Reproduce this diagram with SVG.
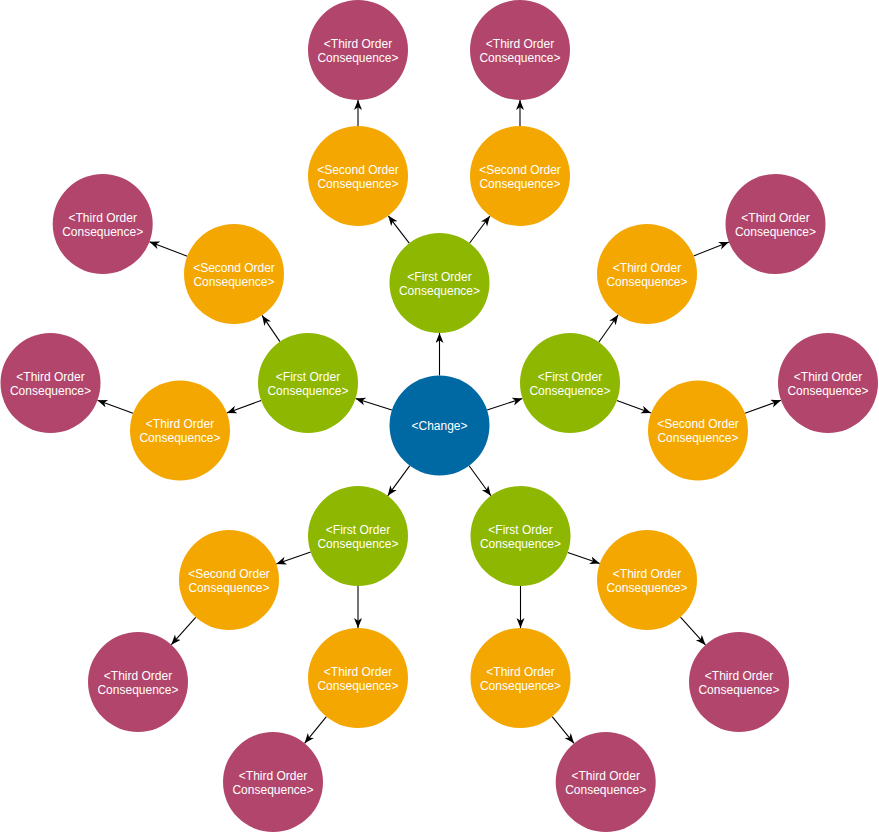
<svg xmlns="http://www.w3.org/2000/svg" width="879" height="833" viewBox="0 0 879 833">
<style>
.n{stroke:none}
.c{fill:#0068A3}
.g{fill:#8DB701}
.o{fill:#F5A701}
.m{fill:#B2456B}
text{font-family:"Liberation Sans",Arial,sans-serif;font-size:12px;fill:#FFFFFF;text-anchor:middle}
.e line{stroke:#000000;stroke-width:1.1;marker-end:url(#ah)}
</style>
<defs>
<marker id="ah" markerUnits="userSpaceOnUse" markerWidth="11" markerHeight="9" refX="10" refY="4" orient="auto">
<path d="M0,0 L10,4 L0,8 L2.8,4 Z" fill="#000000"/>
</marker>
</defs>
<g id="connectors" class="e">
<line x1="439.5" y1="375.5" x2="439.5" y2="333"/>
<line x1="391.9" y1="410.1" x2="355.6" y2="398.4"/>
<line x1="487.1" y1="410.0" x2="522.4" y2="398.5"/>
<line x1="409.8" y1="465.7" x2="387.7" y2="495.8"/>
<line x1="469.1" y1="465.8" x2="490.9" y2="495.7"/>
<line x1="409.2" y1="243.2" x2="388.3" y2="215.8"/>
<line x1="469.6" y1="243" x2="489.9" y2="216"/>
<line x1="358" y1="126" x2="358" y2="100"/>
<line x1="520" y1="126" x2="520" y2="100"/>
<line x1="279.9" y1="341.6" x2="262.1" y2="315.4"/>
<line x1="187.3" y1="256.2" x2="149.4" y2="241.8"/>
<line x1="261.1" y1="400.4" x2="226.9" y2="413.1"/>
<line x1="133" y1="413.3" x2="97.5" y2="400.2"/>
<line x1="598.8" y1="342.2" x2="618.2" y2="314.8"/>
<line x1="693.6" y1="255.9" x2="728.9" y2="242.1"/>
<line x1="616.9" y1="400.4" x2="651.1" y2="413.1"/>
<line x1="745" y1="413.3" x2="781" y2="400.2"/>
<line x1="310.7" y1="552.1" x2="276.3" y2="563.9"/>
<line x1="195.7" y1="617.3" x2="171.3" y2="644.7"/>
<line x1="358" y1="586" x2="358" y2="628"/>
<line x1="326.4" y1="716.7" x2="304.6" y2="743.3"/>
<line x1="520.5" y1="586" x2="520.5" y2="628"/>
<line x1="552.2" y1="716.7" x2="574" y2="743.3"/>
<line x1="567.7" y1="552.4" x2="599.8" y2="563.6"/>
<line x1="680.5" y1="617.1" x2="705.5" y2="644.9"/>
</g>
<g id="change"><circle class="n c" cx="439.5" cy="425.5" r="50"/><text x="439.5" y="429.5">&lt;Change&gt;</text></g>
<g id="first-top"><circle class="n g" cx="439.5" cy="283" r="50"/><text x="439.5" y="280.5">&lt;First Order</text><text x="439.5" y="294.5">Consequence&gt;</text></g>
<g id="first-left"><circle class="n g" cx="308" cy="383" r="50"/><text x="308" y="380.5">&lt;First Order</text><text x="308" y="394.5">Consequence&gt;</text></g>
<g id="first-right"><circle class="n g" cx="570" cy="383" r="50"/><text x="570" y="380.5">&lt;First Order</text><text x="570" y="394.5">Consequence&gt;</text></g>
<g id="first-bl"><circle class="n g" cx="358" cy="536" r="50"/><text x="358" y="533.5">&lt;First Order</text><text x="358" y="547.5">Consequence&gt;</text></g>
<g id="first-br"><circle class="n g" cx="520.5" cy="536" r="50"/><text x="520.5" y="533.5">&lt;First Order</text><text x="520.5" y="547.5">Consequence&gt;</text></g>
<g id="o1"><circle class="n o" cx="358" cy="176" r="50"/><text x="358" y="173.5">&lt;Second Order</text><text x="358" y="187.5">Consequence&gt;</text></g>
<g id="o2"><circle class="n o" cx="520" cy="176" r="50"/><text x="520" y="173.5">&lt;Second Order</text><text x="520" y="187.5">Consequence&gt;</text></g>
<g id="o3"><circle class="n o" cx="234" cy="274" r="50"/><text x="234" y="271.5">&lt;Second Order</text><text x="234" y="285.5">Consequence&gt;</text></g>
<g id="o4"><circle class="n o" cx="180" cy="430.5" r="50"/><text x="180" y="428">&lt;Third Order</text><text x="180" y="442">Consequence&gt;</text></g>
<g id="o5"><circle class="n o" cx="647" cy="274" r="50"/><text x="647" y="271.5">&lt;Third Order</text><text x="647" y="285.5">Consequence&gt;</text></g>
<g id="o6"><circle class="n o" cx="698" cy="430.5" r="50"/><text x="698" y="428">&lt;Second Order</text><text x="698" y="442">Consequence&gt;</text></g>
<g id="o7"><circle class="n o" cx="229" cy="580" r="50"/><text x="229" y="577.5">&lt;Second Order</text><text x="229" y="591.5">Consequence&gt;</text></g>
<g id="o8"><circle class="n o" cx="358" cy="678" r="50"/><text x="358" y="675.5">&lt;Third Order</text><text x="358" y="689.5">Consequence&gt;</text></g>
<g id="o9"><circle class="n o" cx="520.5" cy="678" r="50"/><text x="520.5" y="675.5">&lt;Third Order</text><text x="520.5" y="689.5">Consequence&gt;</text></g>
<g id="o10"><circle class="n o" cx="647" cy="580" r="50"/><text x="647" y="577.5">&lt;Third Order</text><text x="647" y="591.5">Consequence&gt;</text></g>
<g id="m1"><circle class="n m" cx="358" cy="50" r="50"/><text x="358" y="47.5">&lt;Third Order</text><text x="358" y="61.5">Consequence&gt;</text></g>
<g id="m2"><circle class="n m" cx="520" cy="50" r="50"/><text x="520" y="47.5">&lt;Third Order</text><text x="520" y="61.5">Consequence&gt;</text></g>
<g id="m3"><circle class="n m" cx="102.7" cy="224" r="50"/><text x="102.7" y="221.5">&lt;Third Order</text><text x="102.7" y="235.5">Consequence&gt;</text></g>
<g id="m4"><circle class="n m" cx="50.5" cy="383" r="50"/><text x="50.5" y="380.5">&lt;Third Order</text><text x="50.5" y="394.5">Consequence&gt;</text></g>
<g id="m5"><circle class="n m" cx="775.5" cy="224" r="50"/><text x="775.5" y="221.5">&lt;Third Order</text><text x="775.5" y="235.5">Consequence&gt;</text></g>
<g id="m6"><circle class="n m" cx="828" cy="383" r="50"/><text x="828" y="380.5">&lt;Third Order</text><text x="828" y="394.5">Consequence&gt;</text></g>
<g id="m7"><circle class="n m" cx="138" cy="682" r="50"/><text x="138" y="679.5">&lt;Third Order</text><text x="138" y="693.5">Consequence&gt;</text></g>
<g id="m8"><circle class="n m" cx="273" cy="782" r="50"/><text x="273" y="779.5">&lt;Third Order</text><text x="273" y="793.5">Consequence&gt;</text></g>
<g id="m9"><circle class="n m" cx="605.7" cy="782" r="50"/><text x="605.7" y="779.5">&lt;Third Order</text><text x="605.7" y="793.5">Consequence&gt;</text></g>
<g id="m10"><circle class="n m" cx="739" cy="682" r="50"/><text x="739" y="679.5">&lt;Third Order</text><text x="739" y="693.5">Consequence&gt;</text></g>
</svg>
